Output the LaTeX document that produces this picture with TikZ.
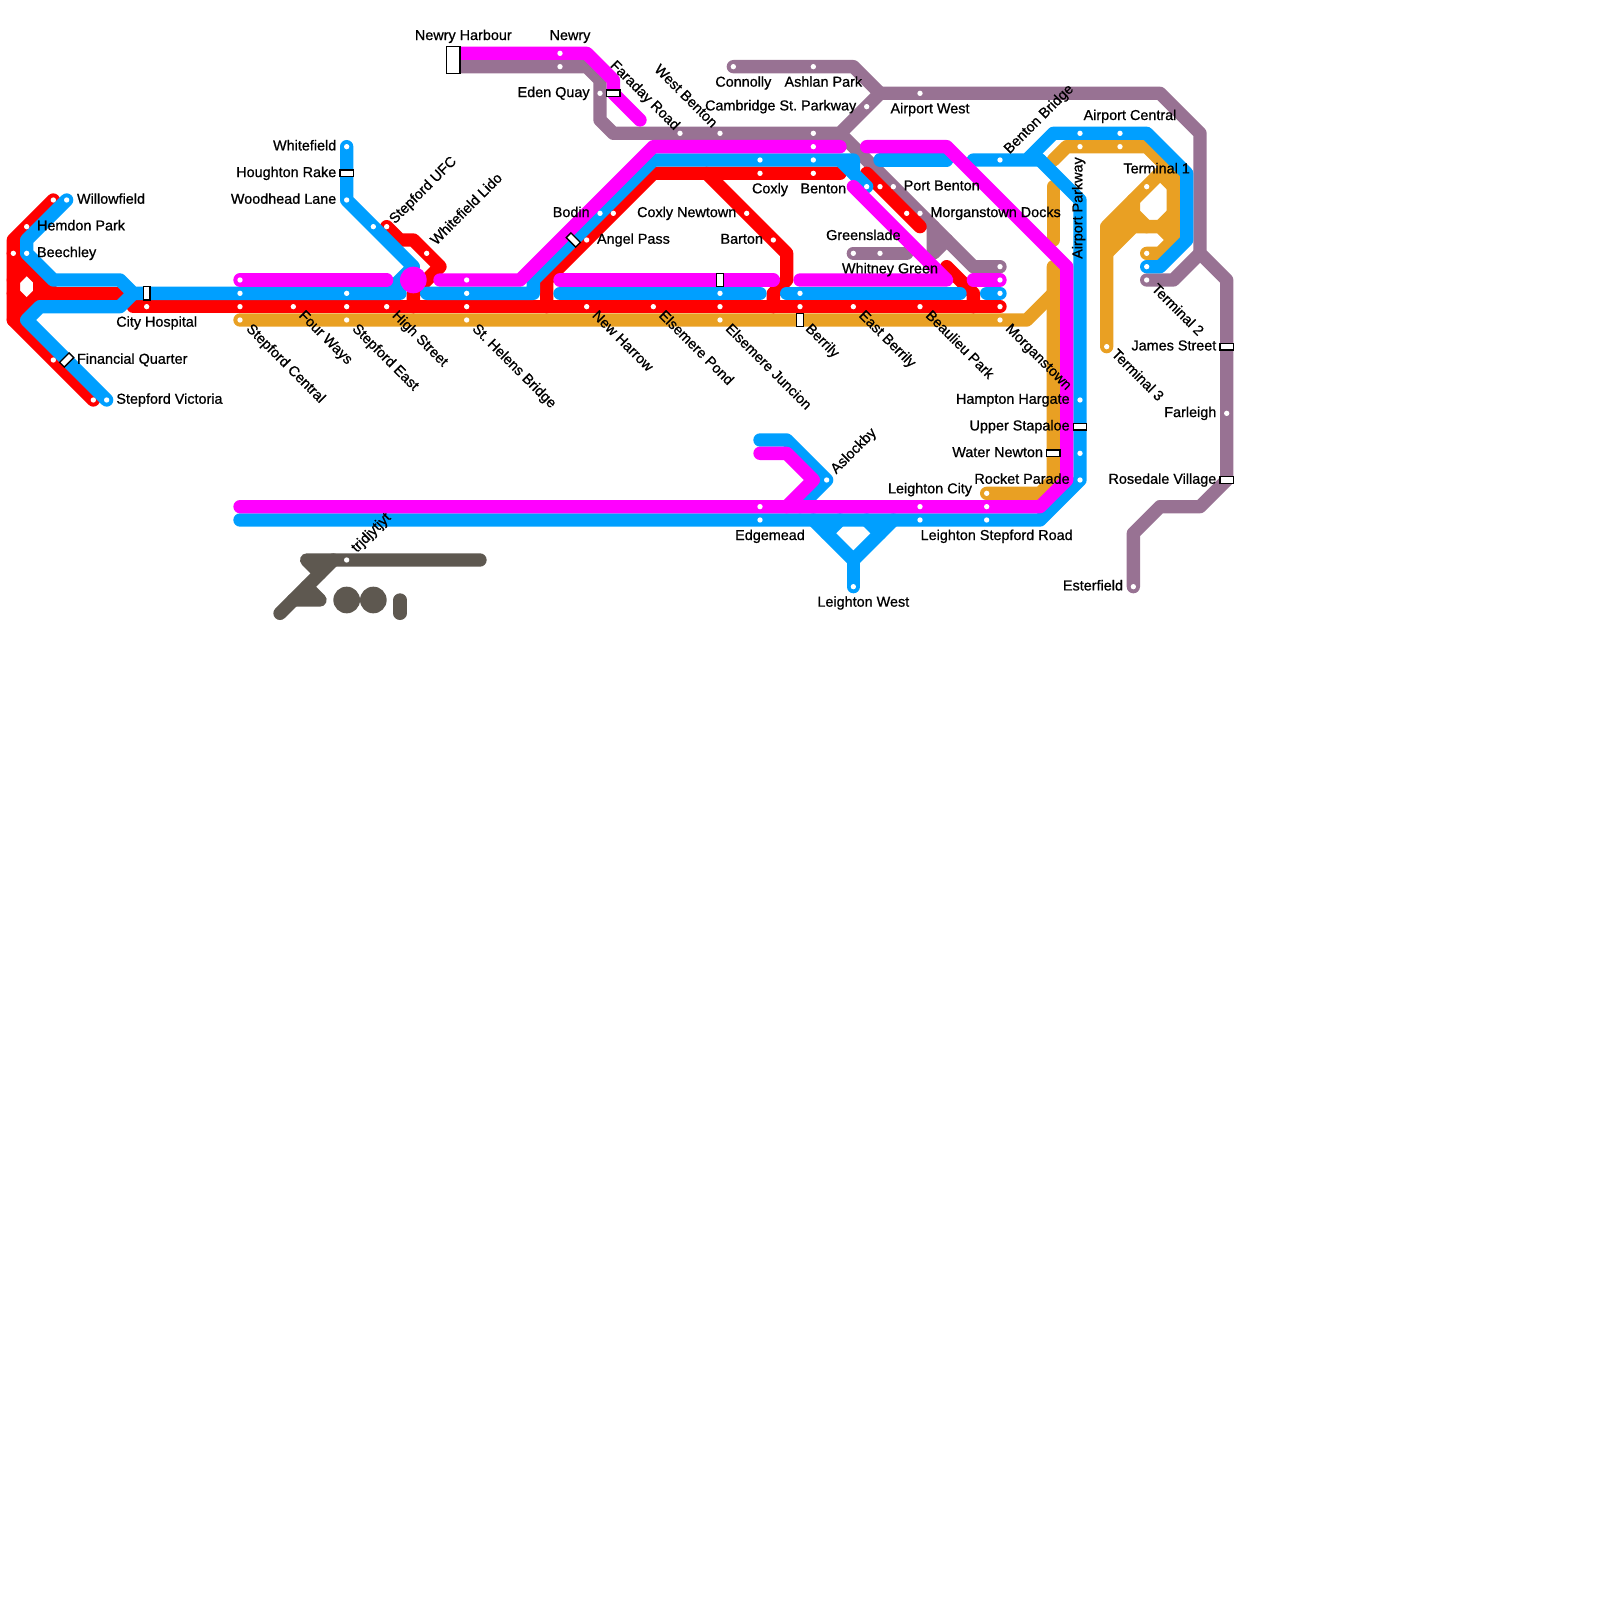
\documentclass[tikz,border=0pt]{standalone}
\usepackage{fontspec}
\setmainfont[FakeBold=0.8]{Liberation Sans}
\usepackage{tikz}
\usetikzlibrary{positioning, backgrounds}
\definecolor{linered}{HTML}{FF0000}
\definecolor{lineblue}{HTML}{009FFF}
\definecolor{linemag}{HTML}{FF00FF}
\definecolor{lineorange}{HTML}{E9A023}
\definecolor{linepurple}{HTML}{987293}
\definecolor{linegrey}{HTML}{5E5850}

\begin{document}
\begin{tikzpicture}[
        x=0.25cm, y=-0.25cm,
        stn/.style={circle, fill=white, inner sep=0pt, minimum size=0.1cm},
        xbox/.style={draw=black, fill=white, line width=0.7pt, inner sep=0pt, minimum width=#1},
        xbox/.default=0.25cm,
        lbl/.style={inner sep=0pt, text height=5.6pt, text depth=1.6pt, font=\fontsize{7.68}{9}\selectfont},
        rail/.style={line width=0.25cm, color=#1, line cap=round, line join=round},
        blob/.style={circle, fill=#1, inner sep=0pt, minimum size=0.5cm},
    ]
    \path[use as bounding box] (0,0) rectangle (120,120);

    % ---- Left fork ----
    \node[stn] (willow-r) at (4,15) {};
    \node[stn] (willow-b) at (5,15) {};
    \node[stn] (hemdon) at (2,17) {};
    \node[stn] (beech-r) at (1,19) {};
    \node[stn] (beech-b) at (2,19) {};
    \node[stn] (finq-r) at (4,27) {};
    \node[stn] (stepv-r) at (7,30) {};
    \node[stn] (stepv-b) at (8,30) {};
    \node[stn] (cityh) at (11,23) {};
    \node[xbox, minimum height=0.125cm, rotate=45] (finq-x) at (5,27) {};
    \node[xbox=0.125cm, minimum height=0.25cm] (cityh-x) at (11,22) {};

    \node[lbl, anchor=west] (willow-l) at (5.75,15) {Willowfield};
    \node[lbl, anchor=west] (hemdon-l) at (2.75,17) {Hemdon Park};
    \node[lbl, anchor=west] (beech-l) at (2.75,19) {Beechley};
    \node[lbl] (cityh-l) at (11.75,24.22) {City Hospital};
    \node[lbl, anchor=west] (finq-l) at (5.75,27) {Financial Quarter};
    \node[lbl, anchor=west] (stepv-l) at (8.7,30) {Stepford Victoria};

    % ---- Whitefield branch ----
    \node[stn] (whitef) at (26,11) {};
    \node[stn] (woodh) at (26,15) {};
    \node[stn] (ufc-b) at (28,17) {};
    \node[stn] (ufc-r) at (29,17) {};
    \node[stn] (lido) at (32,19) {};
    \node[xbox, minimum height=0.125cm] (hough-x) at (26,13) {};
    \node[blob=linemag] (hub) at (31,21) {};

    \node[lbl, anchor=east] (whitef-l) at (25.25,11) {Whitefield};
    \node[lbl, anchor=east] (hough-l) at (25.25,13) {Houghton Rake};
    \node[lbl, anchor=east] (woodh-l) at (25.25,15) {Woodhead Lane};
    \node[lbl, anchor=west, rotate=45] (ufc-l) at (29.4,16.65) {Stepford UFC};
    \node[lbl, anchor=west, rotate=45] (lido-l) at (32.5,18.25) {Whitefield Lido};

    % ---- Main trunk ----
    \node[stn] (stepc-m) at (18,21) {};
    \node[stn] (stepc-b) at (18,22) {};
    \node[stn] (stepc-r) at (18,23) {};
    \node[stn] (stepc-o) at (18,24) {};
    \node[stn] (four) at (22,23) {};
    \node[stn] (stepe-b) at (26,22) {};
    \node[stn] (stepe-r) at (26,23) {};
    \node[stn] (stepe-o) at (26,24) {};
    \node[stn] (high) at (29,23) {};
    \node[stn] (helens-m) at (35,21) {};
    \node[stn] (helens-b) at (35,22) {};
    \node[stn] (helens-r) at (35,23) {};
    \node[stn] (helens-o) at (35,24) {};
    \node[stn] (harrow) at (44,23) {};
    \node[stn] (pond) at (49,23) {};
    \node[stn] (junc-b) at (54,22) {};
    \node[stn] (junc-r) at (54,23) {};
    \node[stn] (junc-o) at (54,24) {};
    \node[stn] (berr-b) at (60,22) {};
    \node[stn] (berr-r) at (60,23) {};
    \node[stn] (eastb) at (64,23) {};
    \node[stn] (beau) at (69,23) {};
    \node[stn] (morg-p) at (75,20) {};
    \node[stn] (morg-m) at (75,21) {};
    \node[stn] (morg-b) at (75,22) {};
    \node[stn] (morg-r) at (75,23) {};
    \node[stn] (morg-o) at (75,24) {};
    \node[xbox=0.125cm, minimum height=0.25cm] (junc-x) at (54,21) {};
    \node[xbox=0.125cm, minimum height=0.25cm] (berr-x) at (60,24) {};

    \node[lbl, anchor=west, rotate=-45] (stepc-l) at (18.6,24.5) {Stepford Central};
    \node[lbl, anchor=west, rotate=-45] (four-l) at (22.55,23.5) {Four Ways};
    \node[lbl, anchor=west, rotate=-45] (stepe-l) at (26.55,24.5) {Stepford East};
    \node[lbl, anchor=west, rotate=-45] (high-l) at (29.55,23.5) {High Street};
    \node[lbl, anchor=west, rotate=-45] (helens-l) at (35.55,24.5) {St.\ Helens Bridge};
    \node[lbl, anchor=west, rotate=-45] (harrow-l) at (44.55,23.5) {New Harrow};
    \node[lbl, anchor=west, rotate=-45] (pond-l) at (49.55,23.5) {Elsemere Pond};
    \node[lbl, anchor=west, rotate=-45] (junc-l) at (54.55,24.5) {Elsemere Juncion};
    \node[lbl, anchor=west, rotate=-45] (berr-l) at (60.55,24.5) {Berrily};
    \node[lbl, anchor=west, rotate=-45] (eastb-l) at (64.55,23.5) {East Berrily};
    \node[lbl, anchor=west, rotate=-45] (beau-l) at (69.55,23.5) {Beaulieu Park};
    \node[lbl, anchor=west, rotate=-45] (morg-l) at (75.55,24.5) {Morganstown};

    % ---- Top section ----
    \node[stn] (newry-m) at (42,4) {};
    \node[stn] (newry-p) at (42,5) {};
    \node[stn] (eden) at (45,7) {};
    \node[stn] (farad) at (51,10) {};
    \node[stn] (westb) at (54,10) {};
    \node[stn] (connolly) at (55,5) {};
    \node[stn] (ashlan) at (61,5) {};
    \node[stn] (camb) at (65,8) {};
    \node[stn] (airw) at (69,7) {};
    \node[stn] (benton-p) at (61,10) {};
    \node[stn] (benton-m) at (61,11) {};
    \node[stn] (benton-b) at (61,12) {};
    \node[stn] (benton-r) at (61,13) {};
    \node[stn] (coxly-b) at (57,12) {};
    \node[stn] (coxly-r) at (57,13) {};
    \node[stn] (bodin-b) at (45,16) {};
    \node[stn] (bodin-r) at (46,16) {};
    \node[stn] (angel) at (44,18) {};
    \node[stn] (coxn) at (56,16) {};
    \node[stn] (barton) at (58,18) {};
    \node[stn] (portb-b) at (65,14) {};
    \node[stn] (portb-r) at (66,14) {};
    \node[stn] (portb-p) at (67,14) {};
    \node[stn] (docks-r) at (68,16) {};
    \node[stn] (docks-p) at (69,16) {};
    \node[stn] (green) at (64,19) {};
    \node[stn] (whitney) at (66,19) {};
    \node[xbox, minimum height=0.5cm] (newryh-x) at (34,4.5) {};
    \node[xbox, minimum height=0.125cm] (farad-x) at (46,7) {};
    \node[xbox, minimum height=0.125cm, rotate=-45] (angel-x) at (43,18) {};

    \node[lbl] (newryh-l) at (34.75,2.72) {Newry Harbour};
    \node[lbl] (newry-l) at (42.75,2.72) {Newry};
    \node[lbl, anchor=east] (eden-l) at (44.25,7) {Eden Quay};
    \node[lbl, anchor=west, rotate=-45] (farad-l) at (45.9,4.75) {Faraday Road};
    \node[lbl, anchor=west, rotate=-45] (westb-l) at (49.2,5.05) {West Benton};
    \node[lbl] (connolly-l) at (55.75,6.22) {Connolly};
    \node[lbl] (ashlan-l) at (61.75,6.22) {Ashlan Park};
    \node[lbl, anchor=east] (camb-l) at (64.25,8) {Cambridge St.\ Parkway};
    \node[lbl] (airw-l) at (69.75,8.22) {Airport West};
    \node[lbl] (coxly-l) at (57.75,14.22) {Coxly};
    \node[lbl] (benton-l) at (61.75,14.22) {Benton};
    \node[lbl, anchor=east] (bodin-l) at (44.25,16) {Bodin};
    \node[lbl, anchor=west] (angel-l) at (44.75,18) {Angel Pass};
    \node[lbl, anchor=east] (coxn-l) at (55.25,16) {Coxly Newtown};
    \node[lbl, anchor=east] (barton-l) at (57.25,18) {Barton};
    \node[lbl, anchor=west] (portb-l) at (67.75,14) {Port Benton};
    \node[lbl, anchor=west] (docks-l) at (69.75,16) {Morganstown Docks};
    \node[lbl] (green-l) at (64.75,17.72) {Greenslade};
    \node[lbl] (whitney-l) at (66.75,20.22) {Whitney Green};

    % ---- Airport section ----
    \node[stn] (bentonb) at (75,12) {};
    \node[stn] (airc1-b) at (81,10) {};
    \node[stn] (airc1-o) at (81,11) {};
    \node[stn] (airc2-b) at (84,10) {};
    \node[stn] (airc2-o) at (84,11) {};
    \node[stn] (term1) at (86,14) {};
    \node[stn] (term2-o) at (86,19) {};
    \node[stn] (term2-b) at (86,20) {};
    \node[stn] (term2-p) at (86,21) {};
    \node[stn] (term3) at (83,26) {};
    \node[stn] (farleigh) at (92,31) {};
    \node[stn] (ester) at (85,44) {};
    \node[stn] (hampton) at (81,30) {};
    \node[stn] (water-b) at (81,34) {};
    \node[stn] (rocket-b) at (81,36) {};
    \node[stn] (rocket-o) at (74,37) {};
    \node[xbox, minimum height=0.125cm] (james-x) at (92,26) {};
    \node[xbox, minimum height=0.125cm] (rose-x) at (92,36) {};
    \node[xbox, minimum height=0.125cm] (upper-x) at (81,32) {};
    \node[xbox, minimum height=0.125cm] (water-x) at (79,34) {};

    \node[lbl, anchor=west, rotate=45] (bentonb-l) at (75.5,11.4) {Benton Bridge};
    \node[lbl] (airc-l) at (84.75,8.72) {Airport Central};
    \node[lbl] (term1-l) at (86.75,12.72) {Terminal 1};
    \node[lbl, anchor=west, rotate=-45] (term2-l) at (86.5,21.5) {Terminal 2};
    \node[lbl, anchor=west, rotate=-45] (term3-l) at (83.5,26.4) {Terminal 3};
    \node[lbl, rotate=90] (airp-l) at (80.9,15.6) {Airport Parkway};
    \node[lbl, anchor=east] (james-l) at (91.25,26) {James Street};
    \node[lbl, anchor=east] (farleigh-l) at (91.25,31) {Farleigh};
    \node[lbl, anchor=east] (rose-l) at (91.25,36) {Rosedale Village};
    \node[lbl, anchor=east] (ester-l) at (84.25,44) {Esterfield};
    \node[lbl, anchor=east] (hampton-l) at (80.25,30) {Hampton Hargate};
    \node[lbl, anchor=east] (upper-l) at (80.25,32) {Upper Stapaloe};
    \node[lbl, anchor=east] (water-l) at (78.25,34) {Water Newton};
    \node[lbl, anchor=east] (rocket-l) at (80.25,36) {Rocket Parade};

    % ---- Bottom section ----
    \node[stn] (edge-m) at (57,38) {};
    \node[stn] (edge-b) at (57,39) {};
    \node[stn] (lcity-m) at (69,38) {};
    \node[stn] (lcity-b) at (69,39) {};
    \node[stn] (lstep-m) at (74,38) {};
    \node[stn] (lstep-b) at (74,39) {};
    \node[stn] (lwest) at (64,44) {};
    \node[stn] (asl) at (62,36) {};
    \node[stn] (trj) at (26,42) {};
    \node[blob=linegrey] (grey-a) at (26,45) {};
    \node[blob=linegrey] (grey-b) at (28,45) {};

    \node[lbl] (edge-l) at (57.75,40.22) {Edgemead};
    \node[lbl] (lcity-l) at (69.75,36.72) {Leighton City};
    \node[lbl] (lstep-l) at (74.75,40.22) {Leighton Stepford Road};
    \node[lbl] (lwest-l) at (64.75,45.22) {Leighton West};
    \node[lbl, anchor=west, rotate=45] (asl-l) at (62.5,35.4) {Aslockby};
    \node[lbl, anchor=west, rotate=45] (trj-l) at (26.55,41.3) {trjdjytjyt};

    % ---- Free line ends ----
    \coordinate (end-m1) at (29,21);
    \coordinate (end-m2) at (33,21);
    \coordinate (end-m3) at (42,21);
    \coordinate (end-m4) at (58,21);
    \coordinate (end-m5) at (60,21);
    \coordinate (end-m6) at (73,21);
    \coordinate (end-m7) at (63,11);
    \coordinate (end-m8) at (65,11);
    \coordinate (end-m9) at (64,14);
    \coordinate (end-m10) at (48,9);
    \coordinate (end-m11) at (57,34);
    \coordinate (end-m12) at (18,38);
    \coordinate (end-m13) at (34,4);
    \coordinate (end-b1) at (30,22);
    \coordinate (end-b2) at (32,22);
    \coordinate (end-b3) at (42,22);
    \coordinate (end-b4) at (57,22);
    \coordinate (end-b5) at (59,22);
    \coordinate (end-b6) at (72,22);
    \coordinate (end-b7) at (74,22);
    \coordinate (end-b8) at (66,12);
    \coordinate (end-b9) at (71,12);
    \coordinate (end-b10) at (73,12);
    \coordinate (end-b11) at (57,33);
    \coordinate (end-b12) at (18,39);
    \coordinate (end-r1) at (10,23);
    \coordinate (end-r2) at (9,22);
    \coordinate (end-r3) at (63,13);
    \coordinate (end-r4) at (65,13);
    \coordinate (end-r5) at (69,17);
    \coordinate (end-r6) at (71,20);
    \coordinate (end-o1) at (79,14);
    \coordinate (end-o2) at (79,18);
    \coordinate (end-o3) at (79,20);
    \coordinate (end-o4) at (79,12);
    \coordinate (end-p1) at (73,20);
    \coordinate (end-p2) at (68,19);
    \coordinate (end-p3) at (70,17);
    \coordinate (end-p4) at (34,5);
    \coordinate (end-g1) at (36,42);
    \coordinate (end-g2) at (23,42);
    \coordinate (end-g3) at (21,46);
    \coordinate (end-g4) at (22,45);
    \coordinate (end-g5) at (30,45);
    \coordinate (end-g6) at (30,46);

    \begin{scope}[on background layer]
    % ---- Purple ----
    \draw[rail=linepurple] (end-p4) -- (newry-p.center) -- (44,5) -- (45,6) -- (eden.center) -- (45,9) -- (46,10) -- (farad.center) -- (westb.center) -- (benton-p.center) -- (63,10) -- (camb.center) -- (66,7) -- (airw.center) -- (87,7) -- (90,10) -- (90,19) -- (92,21) -- (james-x.center) -- (farleigh.center) -- (rose-x.center) -- (90,38) -- (87,38) -- (85,40) -- (ester.center);
    \draw[rail=linepurple] (connolly.center) -- (ashlan.center) -- (64,5) -- (66,7);
    \draw[rail=linepurple] (term2-p.center) -- (88,21) -- (90,19);
    \draw[rail=linepurple] (63,10) -- (portb-p.center) -- (docks-p.center) -- (end-p1) -- (morg-p.center);
    \draw[rail=linepurple] (end-p3) -- (70,19) -- (71,18);
    \draw[rail=linepurple] (green.center) -- (whitney.center) -- (end-p2);

    % ---- Orange ----
    \draw[rail=lineorange] (stepc-o.center) -- (stepe-o.center) -- (helens-o.center) -- (junc-o.center) -- (berr-x.center) -- (morg-o.center) -- (77,24) -- (79,22);
    \draw[rail=lineorange] (end-o3) -- (water-x.center) -- (79,36) -- (78,37) -- (rocket-o.center);
    \draw[rail=lineorange] (end-o1) -- (end-o2);
    \draw[rail=lineorange] (end-o4) -- (80,11) -- (airc1-o.center) -- (airc2-o.center) -- (86,11) -- (88,13) -- (88,18) -- (87,19) -- (term2-o.center);
    \draw[rail=lineorange] (term3.center) -- (83,17) -- (term1.center) -- (87,13) -- (88,14);
    \draw[rail=lineorange] (83,19) -- (85,17) -- (87,17) -- (88,18);
    \draw[rail=lineorange] (83,18) -- (85,16);
    \draw[rail=lineorange] (85,15) -- (85,16) -- (86,17);
    \draw[rail=lineorange] (88,16) -- (87,17);

    % ---- Red ----
    \draw[rail=linered] (willow-r.center) -- (hemdon.center) -- (1,18) -- (beech-r.center) -- (1,24) -- (finq-r.center) -- (stepv-r.center);
    \draw[rail=linered] (beech-r.center) -- (4,22);
    \draw[rail=linered] (1,24) -- (4,21);
    \draw[rail=linered] (1,21) -- (2,20);
    \draw[rail=linered] (1,22) -- (2,23);
    \draw[rail=linered] (3,21) -- (3,23);
    \draw[rail=linered] (3,22) -- (end-r2);
    \draw[rail=linered] (end-r1) -- (cityh.center) -- (stepc-r.center) -- (four.center) -- (stepe-r.center) -- (high.center) -- (helens-r.center) -- (harrow.center) -- (pond.center) -- (junc-r.center) -- (berr-r.center) -- (eastb.center) -- (beau.center) -- (morg-r.center);
    \draw[rail=linered] (ufc-r.center) -- (30,18) -- (31,18) -- (lido.center) -- (33,20) -- (31,22) -- (31,23);
    \draw[rail=linered] (41,23) -- (41,21) -- (angel.center) -- (bodin-r.center) -- (49,13) -- (coxly-r.center) -- (benton-r.center) -- (end-r3);
    \draw[rail=linered] (53,13) -- (coxn.center) -- (barton.center) -- (59,19) -- (59,21) -- (58,22) -- (58,23);
    \draw[rail=linered] (end-r4) -- (portb-r.center) -- (docks-r.center) -- (end-r5);
    \draw[rail=linered] (end-r6) -- (73,22) -- (73,23);

    % ---- Blue ----
    \draw[rail=lineblue] (willow-b.center) -- (2,18) -- (beech-b.center) -- (4,21) -- (9,21) -- (10,22) -- (cityh-x.center) -- (stepc-b.center) -- (stepe-b.center) -- (end-b1);
    \draw[rail=lineblue] (stepv-b.center) -- (2,24) -- (3,23) -- (9,23) -- (10,22);
    \draw[rail=lineblue] (whitef.center) -- (hough-x.center) -- (woodh.center) -- (ufc-b.center) -- (31,20) -- (29,22);
    \draw[rail=lineblue] (end-b2) -- (helens-b.center) -- (40,22) -- (40,21) -- (angel-x.center) -- (bodin-b.center) -- (49,12) -- (coxly-b.center) -- (benton-b.center) -- (64,12) -- (64,13) -- (portb-b.center) -- (63,12);
    \draw[rail=lineblue] (end-b3) -- (junc-b.center) -- (end-b4);
    \draw[rail=lineblue] (end-b5) -- (berr-b.center) -- (end-b6);
    \draw[rail=lineblue] (end-b7) -- (morg-b.center);
    \draw[rail=lineblue] (end-b8) -- (end-b9);
    \draw[rail=lineblue] (end-b10) -- (bentonb.center) -- (78,12) -- (77,12) -- (79,10) -- (airc1-b.center) -- (airc2-b.center) -- (86,10) -- (89,13) -- (89,18) -- (87,20) -- (term2-b.center);
    \draw[rail=lineblue] (78,12) -- (81,15) -- (hampton.center) -- (upper-x.center) -- (water-b.center) -- (rocket-b.center) -- (78,39) -- (lstep-b.center) -- (lcity-b.center) -- (edge-b.center) -- (end-b12);
    \draw[rail=lineblue] (61,39) -- (64,42) -- (67,39);
    \draw[rail=lineblue] (64,42) -- (lwest.center);
    \draw[rail=lineblue] (63,39) -- (62,40);
    \draw[rail=lineblue] (65,39) -- (66,40);
    \draw[rail=lineblue] (end-b11) -- (59,33) -- (asl.center) -- (60,38);

    % ---- Magenta ----
    \draw[rail=linemag] (stepc-m.center) -- (end-m1);
    \draw[rail=linemag] (end-m2) -- (helens-m.center) -- (39,21) -- (49,11) -- (benton-m.center) -- (end-m7);
    \draw[rail=linemag] (end-m3) -- (junc-x.center) -- (end-m4);
    \draw[rail=linemag] (end-m5) -- (71,21) -- (end-m9);
    \draw[rail=linemag] (end-m6) -- (morg-m.center);
    \draw[rail=linemag] (end-m8) -- (71,11) -- (80,20) -- (80,36) -- (78,38) -- (lstep-m.center) -- (lcity-m.center) -- (edge-m.center) -- (end-m12);
    \draw[rail=linemag] (end-m13) -- (newry-m.center) -- (44,4) -- (46,6) -- (farad-x.center) -- (end-m10);
    \draw[rail=linemag] (end-m11) -- (59,34) -- (61,36) -- (59,38);

    % ---- Grey ----
    \draw[rail=linegrey] (end-g1) -- (trj.center) -- (end-g2) -- (24,43);
    \draw[rail=linegrey] (25,42) -- (end-g3);
    \draw[rail=linegrey] (end-g4) -- (24,45) -- (23,44);
    \draw[rail=linegrey] (end-g5) -- (end-g6);
    \end{scope}
\end{tikzpicture}
\end{document}
